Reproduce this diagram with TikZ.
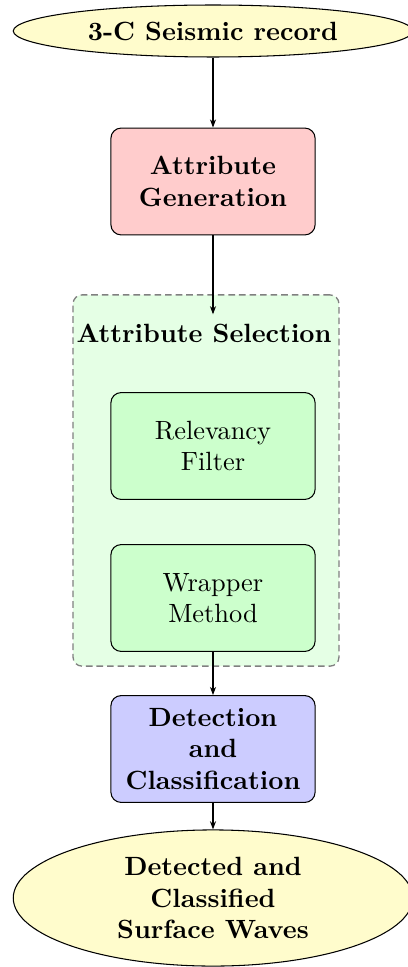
\documentclass[tikz,border=0pt]{standalone}
\usetikzlibrary{shapes.geometric,arrows.meta}
\begin{document}
\begin{tikzpicture}[x=0.379pt,y=-0.379pt,
    terminal/.style={ellipse, draw, fill=yellow!20, font=\bfseries, align=center,
      minimum width=151.4pt, inner sep=1pt},
    procbox/.style={rectangle, rounded corners=3.9pt, draw, align=center,
      minimum width=77.4pt, minimum height=40.5pt},
    groupbox/.style={rectangle, rounded corners=3.4pt, draw=black!50, fill=green!10,
      dash pattern=on 2.5pt off 1.5pt, line width=0.5pt,
      minimum width=100.8pt, minimum height=140.7pt},
    flow/.style={-{Stealth[length=3.1pt,width=2.3pt]}}
  ]
  \useasboundingbox (0,0) rectangle (407,967);

  % input record
  \node[terminal, minimum height=19.7pt] (rec) at (213,31) {3-C Seismic record};

  % attribute generation
  \node[procbox, fill=red!20, font=\bfseries] (gen) at (213,181.5) {Attribute\\Generation};

  % attribute selection group
  \node[groupbox] (sel) at (206,480.5) {};
  \node[font=\bfseries] (selt) at (204,333) {Attribute Selection};
  \node[procbox, fill=green!20] (filt) at (213,446) {Relevancy\\Filter};
  \node[procbox, fill=green!20] (wrap) at (213,598) {Wrapper\\Method};

  % detection and classification
  \node[procbox, fill=blue!20, font=\bfseries] (det) at (213,749) {Detection\\and\\Classification};

  % output
  \node[terminal, minimum height=51.6pt] (out) at (213,898) {Detected and\\Classified\\Surface Waves};

  % connectors
  \draw[flow] (rec) -- (gen);
  \draw[flow] (gen.south) -- (gen.south |- selt.north);
  \draw[flow] (wrap) -- (det);
  \draw[flow] (det) -- (out);
\end{tikzpicture}
\end{document}
